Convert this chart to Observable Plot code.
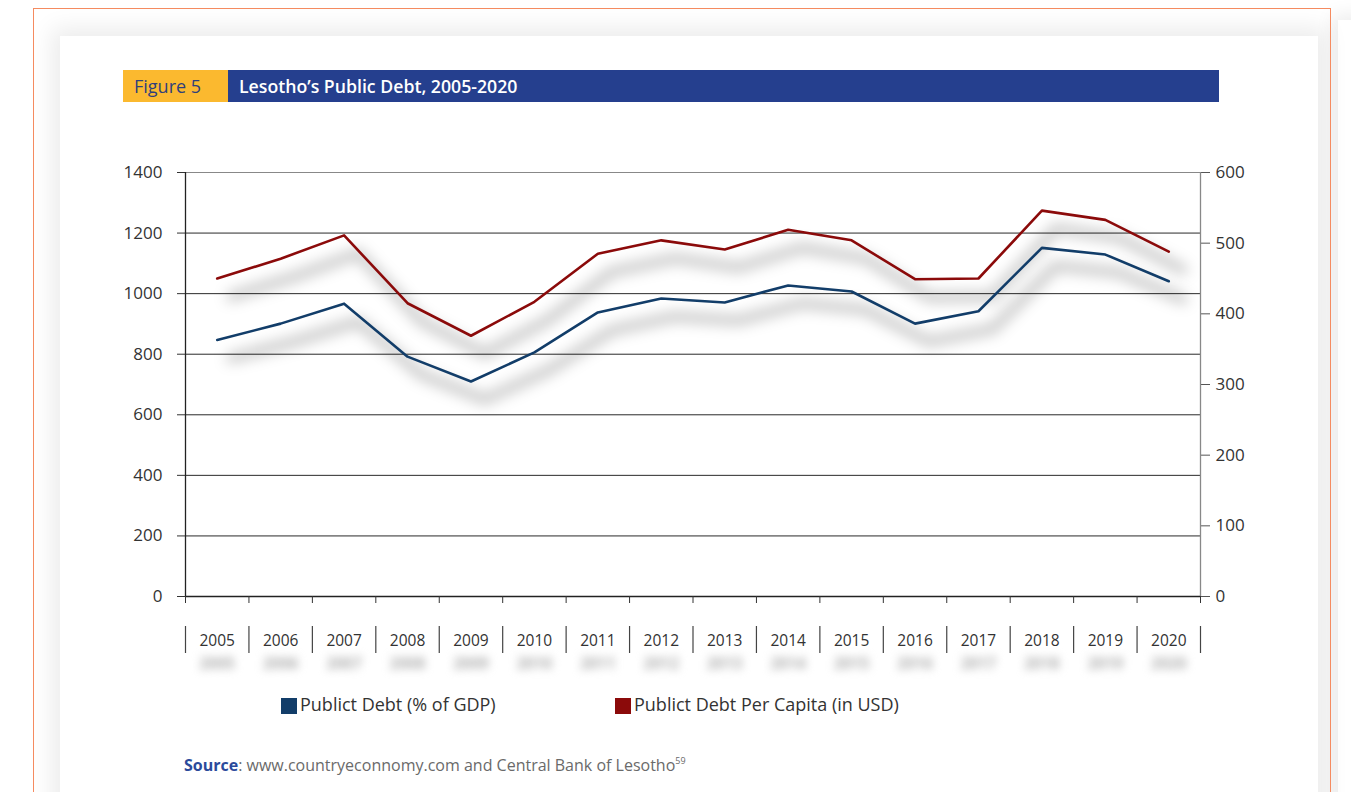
<!DOCTYPE html>
<html>
<head>
<meta charset="utf-8">
<script src="https://cdn.jsdelivr.net/npm/d3@7"></script>
<script src="https://cdn.jsdelivr.net/npm/@observablehq/plot@0.6"></script>
<style>
  html, body { margin: 0; padding: 0; background: #fff; }
  #page { position: relative; width: 1351px; height: 792px; overflow: hidden; font-family: "Open Sans", sans-serif; }
  .abs { position: absolute; white-space: nowrap; }
  #border { left: 33px; top: 8px; width: 1298px; height: 820px; border: 1.5px solid #f58b60; box-sizing: border-box; }
  #card { left: 60px; top: 36px; width: 1258px; height: 820px; box-shadow: 0 0 22px 8px rgba(0,0,0,0.08); background: #fff; }
  #rightshade { left: 1338px; top: 20px; width: 40px; height: 820px; box-shadow: 0 0 18px 6px rgba(0,0,0,0.07); background:#fff; }
  #figbox { left: 123px; top: 70px; width: 105px; height: 32px; background: #fbb92f; color: #2f3f7c; font-size: 18px; line-height: 32px; padding-left: 11px; box-sizing: border-box; }
  #titlebar { left: 228px; top: 70px; width: 991px; height: 32px; background: #253f8e; color: #fff; font-size: 17.7px; font-weight: 600; line-height: 32px; padding-left: 11px; box-sizing: border-box; }
  .legsq { width: 16px; height: 16px; }
  .legtx { font-size: 18px; line-height: 20px; color: #333; }
  #source { left: 184px; top: 751px; font-size: 16px; line-height: 20px; color: #6a6a6a; }
  #source b { color: #2b4a9b; font-weight: 700; }
  #source sup { font-size: 9px; vertical-align: 7px; }
  #chart { left: 0; top: 140px; }
</style>
</head>
<body>
<div id="page">
  <div id="rightshade" class="abs"></div>
  <div id="card" class="abs"></div>
  <div id="border" class="abs"></div>
  <div id="figbox" class="abs">Figure 5</div>
  <div id="titlebar" class="abs">Lesotho’s Public Debt, 2005-2020</div>
  <div id="chart" class="abs"></div>
  <div class="abs legsq" style="left:281px;top:698px;background:#123d69;"></div>
  <div class="abs legtx" style="left:300px;top:694px;">Publict Debt (% of GDP)</div>
  <div class="abs legsq" style="left:615px;top:698px;background:#8b0a0a;"></div>
  <div class="abs legtx" style="left:634px;top:694px;">Publict Debt Per Capita (in USD)</div>
  <div id="source" class="abs"><b>Source</b>: www.countryeconnomy.com and Central Bank of Lesotho<sup>59</sup></div>
</div>
<script>
// ---- data ----
const years = [2005, 2006, 2007, 2008, 2009, 2010, 2011, 2012, 2013, 2014, 2015, 2016, 2017, 2018, 2019, 2020];
const debtPctGdp = [847, 901, 967, 792, 710, 806, 938, 984, 971, 1027, 1007, 901, 942, 1151, 1129, 1041];
const debtPerCapitaUsd = [450, 478, 511, 415, 369, 417, 485, 504, 491, 519, 504, 449, 450, 546, 533, 488];
const leftTicks = [0, 200, 400, 600, 800, 1000, 1200, 1400];
const rightTicks = [0, 100, 200, 300, 400, 500, 600];
const leftMax = 1400, rightMax = 600;

// ---- derived tables ----
const k = leftMax / rightMax;
const blue = years.map((y, i) => ({year: y, v: debtPctGdp[i]}));
const red = years.map((y, i) => ({year: y, v: debtPerCapitaUsd[i] * k}));
const bounds = years.map(y => y - 0.5).concat([years[years.length - 1] + 0.5]);
const gridVals = leftTicks.filter(v => v > 0 && v < leftMax);

const chart = Plot.plot({
  width: 1351,
  height: 540,
  marginTop: 32,
  marginBottom: 84,
  marginLeft: 185,
  marginRight: 151,
  style: {fontFamily: "'Open Sans', sans-serif", fontSize: "17px", color: "#333", background: "transparent", overflow: "visible"},
  x: {type: "linear", domain: [bounds[0], bounds[bounds.length - 1]], axis: null},
  y: {domain: [0, leftMax], axis: null},
  marks: [
    Plot.ruleY(gridVals, {stroke: "#2a2a2a", strokeWidth: 1}),
    Plot.ruleY([leftMax], {stroke: "#888", strokeWidth: 1.2}),
    // shadows (blurred after render)
    Plot.line(blue, {x: "year", y: "v", dx: 14, dy: 18, stroke: "#000", strokeOpacity: 0.22, strokeWidth: 10}),
    Plot.line(red, {x: "year", y: "v", dx: 14, dy: 18, stroke: "#000", strokeOpacity: 0.22, strokeWidth: 10}),
    // axes
    Plot.axisY(leftTicks, {anchor: "left", tickSize: 8, tickPadding: 15, fontSize: 17, stroke: "#333", label: null, tickFormat: d => String(d)}),
    Plot.axisY(rightTicks.map(v => v * k), {anchor: "right", tickSize: 9, tickPadding: 6, fontSize: 17, stroke: "#555", label: null, tickFormat: d => String(Math.round(d / k))}),
    Plot.ruleX([bounds[0]], {y1: 0, y2: leftMax, stroke: "#222", strokeWidth: 1.3}),
    Plot.ruleX([bounds[bounds.length - 1]], {y1: 0, y2: leftMax, stroke: "#888", strokeWidth: 1.3}),
    Plot.ruleY([0], {stroke: "#222", strokeWidth: 1.3}),
    Plot.axisX(bounds, {anchor: "bottom", tickSize: 7, stroke: "#333", tickFormat: () => "", label: null}),
    // year label row
    Plot.ruleX(bounds, {x: d => d, insetTop: 454, insetBottom: -57, stroke: "#444", strokeWidth: 1.2}),
    Plot.text(years, {x: d => d, text: d => String(d), frameAnchor: "bottom", dy: 72, fill: "#b0b0b0", fontSize: 15.5, fontWeight: 700}),
    Plot.text(years, {x: d => d, text: d => String(d), frameAnchor: "bottom", dy: 49, fill: "#333", fontSize: 15.5}),
    // data lines
    Plot.line(blue, {x: "year", y: "v", stroke: "#123d69", strokeWidth: 2.6}),
    Plot.line(red, {x: "year", y: "v", stroke: "#8b0a0a", strokeWidth: 2.6})
  ]
});
// soft blur for the shadow copies
d3.select(chart).selectAll('g[stroke-width="10"]').style("filter", "blur(7px)");
d3.select(chart).selectAll('g[fill="#b0b0b0"]').style("filter", "blur(4px)");
document.getElementById("chart").appendChild(chart);
</script>
</body>
</html>
